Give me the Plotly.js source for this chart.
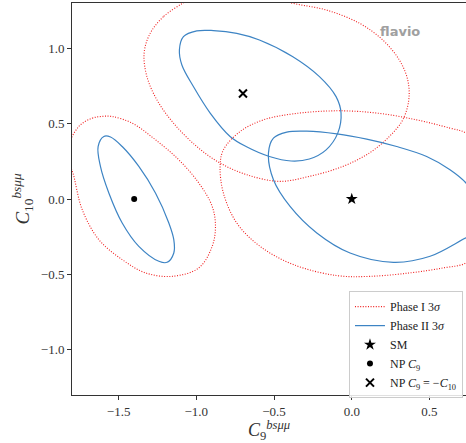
<!DOCTYPE html>
<html>
<head>
<meta charset="utf-8">
<script src="https://cdn.plot.ly/plotly-3.0.1.min.js"></script>
<style>html,body{margin:0;padding:0;background:#fff;}#chart{width:466px;height:443px;}</style>
</head>
<body>
<div id="chart"></div>
<script>
// Contours (C9, C10 pairs)
const phase1NpC9X = [-1.756,-1.670,-1.606,-1.542,-1.413,-1.263,-1.113,-0.984,-0.898,-0.877,-0.898,-0.984,-1.156,-1.327,-1.477,-1.627,-1.734,-1.788,-1.830,-1.756];
const phase1NpC9Y = [0.481,0.536,0.548,0.547,0.503,0.393,0.260,0.106,-0.049,-0.181,-0.314,-0.457,-0.513,-0.490,-0.402,-0.270,-0.071,0.150,0.320,0.481];

const phase2NpC9X = [-1.595,-1.632,-1.617,-1.563,-1.477,-1.370,-1.241,-1.188,-1.145,-1.145,-1.177,-1.263,-1.370,-1.477,-1.552,-1.595];
const phase2NpC9Y = [0.415,0.348,0.216,0.040,-0.159,-0.314,-0.413,-0.420,-0.358,-0.270,-0.159,0.040,0.216,0.348,0.411,0.415];

const phase1NpC910X = [-1.083,-1.212,-1.297,-1.336,-1.318,-1.254,-1.147,-0.997,-0.847,-0.675,-0.466,-0.273,-0.058,0.113,0.242,0.328,0.367,0.360,0.306,0.199,0.049,-0.165,-0.379,-0.590,-0.847,-1.008,-1.083];
const phase1NpC910Y = [1.302,1.209,1.099,0.967,0.812,0.658,0.503,0.348,0.238,0.161,0.117,0.150,0.216,0.305,0.415,0.525,0.658,0.790,0.922,1.055,1.166,1.254,1.298,1.360,1.373,1.346,1.302];

const phase2NpC910X = [-1.109,-1.083,-0.997,-0.890,-0.740,-0.594,-0.379,-0.208,-0.101,-0.069,-0.090,-0.165,-0.273,-0.390,-0.530,-0.680,-0.783,-0.911,-1.019,-1.093,-1.109];
const phase2NpC910Y = [0.989,1.077,1.115,1.117,1.099,1.055,0.944,0.812,0.679,0.570,0.437,0.326,0.265,0.252,0.282,0.348,0.415,0.570,0.746,0.889,0.989];

const phase1SmX = [-0.847,-0.826,-0.718,-0.568,-0.376,-0.096,0.161,0.418,0.632,0.735,0.850,0.900,0.880,0.820,0.735,0.589,0.375,0.118,-0.096,-0.376,-0.590,-0.740,-0.826,-0.847];
const phase1SmY = [0.216,0.326,0.448,0.525,0.565,0.585,0.570,0.525,0.470,0.437,0.300,0.100,-0.150,-0.330,-0.424,-0.457,-0.490,-0.513,-0.508,-0.435,-0.314,-0.159,0.040,0.216];

const phase2SmX = [-0.536,-0.504,-0.418,-0.289,-0.096,0.096,0.289,0.482,0.632,0.735,0.800,0.820,0.780,0.735,0.504,0.268,-0.011,-0.225,-0.397,-0.504,-0.536];
const phase2SmY = [0.305,0.404,0.444,0.450,0.432,0.397,0.348,0.282,0.194,0.106,0.000,-0.120,-0.240,-0.258,-0.380,-0.420,-0.358,-0.225,-0.049,0.128,0.305];

const pointNames = ['SM', 'NP <i>C</i><sub>9</sub>', 'NP <i>C</i><sub>9</sub> = −<i>C</i><sub>10</sub>'];
const pointX = [0.0, -1.4, -0.7];
const pointY = [0.0, 0.0, 0.7];

const xTickVals = [-1.5, -1.0, -0.5, 0.0, 0.5];
const xTickText = ['−1.5', '−1.0', '−0.5', '0.0', '0.5'];
const yTickVals = [-1.0, -0.5, 0.0, 0.5, 1.0];
const yTickText = ['−1.0', '−0.5', '0.0', '0.5', '1.0'];

const RED = 'rgb(240,30,30)';
const BLUE = '#3d84c4';

function contour(x, y, kind, show) {
  const p1 = kind === 1;
  return {
    x: x, y: y, type: 'scatter', mode: 'lines',
    name: p1 ? 'Phase I 3<i>σ</i>' : 'Phase II 3<i>σ</i>',
    legendgroup: p1 ? 'p1' : 'p2', showlegend: show,
    line: {color: p1 ? RED : BLUE, width: p1 ? 1.1 : 1.2, dash: p1 ? '1px,1.6px' : 'solid', shape: 'spline', smoothing: 1},
    hoverinfo: 'skip'
  };
}

const traces = [
  contour(phase1NpC9X, phase1NpC9Y, 1, true),
  contour(phase2NpC9X, phase2NpC9Y, 2, true),
  contour(phase1NpC910X, phase1NpC910Y, 1, false),
  contour(phase2NpC910X, phase2NpC910Y, 2, false),
  contour(phase1SmX, phase1SmY, 1, false),
  contour(phase2SmX, phase2SmY, 2, false),
  {x: [pointX[0]], y: [pointY[0]], type: 'scatter', mode: 'markers', name: pointNames[0],
   marker: {symbol: 'star', size: 9, color: 'black'}},
  {x: [pointX[1]], y: [pointY[1]], type: 'scatter', mode: 'markers', name: pointNames[1],
   marker: {symbol: 'circle', size: 6, color: 'black'}},
  {x: [pointX[2]], y: [pointY[2]], type: 'scatter', mode: 'markers', name: pointNames[2],
   marker: {symbol: 'x-thin-open', size: 8, color: 'black', line: {width: 2, color: 'black'}}}
];

const tickFont = {family: 'Liberation Serif, DejaVu Serif, serif', size: 13, color: '#333'};

const layout = {
  width: 466, height: 443,
  margin: {l: 72, r: 0, t: 3, b: 48, pad: 0, autoexpand: false},
  paper_bgcolor: 'white', plot_bgcolor: 'white',
  showlegend: true,
  xaxis: {
    range: [-1.8, 0.735], tickvals: xTickVals, ticktext: xTickText,
    ticks: 'outside', ticklen: 4, tickcolor: '#333', tickwidth: 1,
    showgrid: false, zeroline: false, showline: true, linecolor: '#333', linewidth: 1, mirror: true,
    tickfont: tickFont,
    title: {text: '<i>C</i><sub>9</sub><sup><i>bsμμ</i></sup>', font: {family: 'Liberation Serif, DejaVu Serif, serif', size: 18, color: '#333'}, standoff: 9}
  },
  yaxis: {
    range: [-1.3, 1.3], tickvals: yTickVals, ticktext: yTickText,
    ticks: 'outside', ticklen: 4, tickcolor: '#333', tickwidth: 1,
    showgrid: false, zeroline: false, showline: true, linecolor: '#333', linewidth: 1, mirror: true,
    tickfont: tickFont,
    title: {text: '<i>C</i><sub>10</sub><sup><i>bsμμ</i></sup>', font: {family: 'Liberation Serif, DejaVu Serif, serif', size: 19, color: '#333'}, standoff: 6}
  },
  legend: {
    x: 0.703, y: 0.265, xanchor: 'left', yanchor: 'top',
    bgcolor: 'rgba(255,255,255,0.85)', bordercolor: '#ccc', borderwidth: 1,
    font: {family: 'Liberation Serif, DejaVu Serif, serif', size: 12, color: '#222'},
    tracegroupgap: 0, itemwidth: 30
  },
  annotations: [{
    x: 0.31, y: 1.11, xref: 'x', yref: 'y', text: '<b>flavio</b>', showarrow: false,
    font: {family: 'DejaVu Sans, sans-serif', size: 13, color: '#a0a0a0'}
  }]
};

Plotly.newPlot('chart', traces, layout, {displayModeBar: false, staticPlot: true});
</script>
</body>
</html>
